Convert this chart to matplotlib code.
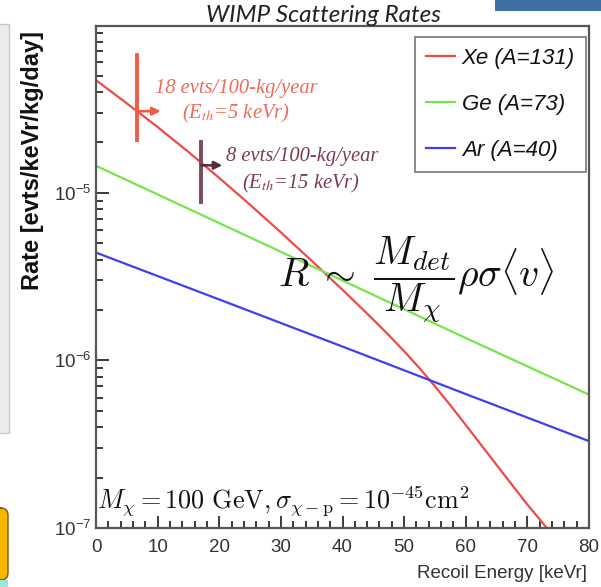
import matplotlib
matplotlib.use("Agg")
import matplotlib.pyplot as plt
from matplotlib.patches import Rectangle, FancyBboxPatch
from matplotlib.lines import Line2D
from matplotlib.ticker import LogLocator, FixedLocator, MultipleLocator, NullFormatter, FuncFormatter

# ---------------- data ----------------
xe_energy = [0, 5, 10, 15, 20, 25, 30, 35, 40, 42.5, 45, 47.5, 50, 52.5, 55, 57.5,
             60, 62.5, 65, 67.5, 70, 72.5, 75]
xe_rate = [4.70e-5, 3.42e-5, 2.47e-5, 1.754e-5, 1.227e-5, 8.49e-6, 5.81e-6, 3.93e-6,
           2.64e-6, 2.153e-6, 1.750e-6, 1.416e-6, 1.135e-6, 8.99e-7, 7.01e-7, 5.40e-7,
           4.12e-7, 3.13e-7, 2.38e-7, 1.81e-7, 1.38e-7, 1.07e-7, 8.3e-8]
ge_energy = [0, 20, 40, 60, 80]
ge_rate = [1.45e-5, 6.6e-6, 3.0e-6, 1.36e-6, 6.25e-7]
ar_energy = [0, 20, 40, 60, 80]
ar_rate = [4.4e-6, 2.31e-6, 1.21e-6, 6.3e-7, 3.3e-7]

series_labels = ["Xe (A=131)", "Ge (A=73)", "Ar (A=40)"]
series_colors = ["#ee4a4a", "#72e64a", "#3f3ff0"]

x_ticks = [0, 10, 20, 30, 40, 50, 60, 70, 80]
y_ticks = [1e-7, 1e-6, 1e-5]
y_tick_labels = ["$10^{-7}$", "$10^{-6}$", "$10^{-5}$"]

# threshold markers: (energy, rate at curve, low, high)
thr1 = dict(x=6.6, y=3.07e-5, lo=2.06e-5, hi=6.64e-5, dx=3.9)
thr2 = dict(x=17.1, y=1.46e-5, lo=8.8e-6, hi=2.02e-5, dx=3.4)

# ---------------- style ----------------
plt.rcParams["mathtext.fontset"] = "custom"
plt.rcParams["mathtext.rm"] = "Liberation Sans"
plt.rcParams["mathtext.it"] = "Liberation Sans:italic"
plt.rcParams["font.family"] = ["Liberation Sans", "DejaVu Sans"]

W, H = 601, 587
fig = plt.figure(figsize=(W / 100, H / 100), dpi=100)

def fx(px):
    return px / W

def fy(py):
    return 1 - py / H

left, right, top, bottom = 96, 589, 26, 528
ax = fig.add_axes([fx(left), fy(bottom), (right - left) / W, (bottom - top) / H])

for e, r, c in zip([xe_energy, ge_energy, ar_energy], [xe_rate, ge_rate, ar_rate], series_colors):
    ax.plot(e, r, color=c, lw=1.6, solid_capstyle="butt")

ax.set_yscale("log")
ax.set_xlim(0, 80)
ax.set_ylim(1e-7, 9.9e-5)

axis_col = "#3a3a3a"
for s in ax.spines.values():
    s.set_color("#555555")
    s.set_linewidth(1.6)

ax.xaxis.set_major_locator(FixedLocator(x_ticks))
ax.xaxis.set_minor_locator(MultipleLocator(2))
ax.yaxis.set_major_locator(FixedLocator(y_ticks))
ax.yaxis.set_major_formatter(FuncFormatter(lambda v, p: y_tick_labels[y_ticks.index(v)] if v in y_ticks else ""))
ax.yaxis.set_minor_locator(LogLocator(base=10, subs=range(2, 10)))
ax.yaxis.set_minor_formatter(NullFormatter())
ax.tick_params(which="both", direction="in", colors=axis_col, width=1.4,
               top=False, right=False, labelsize=13.5)
ax.tick_params(which="major", length=9)
ax.tick_params(which="minor", length=5)
ax.tick_params(axis="x", which="major", pad=8)
ax.tick_params(axis="y", which="major", pad=3)
for lab in ax.get_xticklabels() + ax.get_yticklabels():
    lab.set_color("#333333")

# threshold markers
ax.plot([thr1["x"], thr1["x"]], [thr1["lo"], thr1["hi"]], color="#f45a48", lw=2.8)
ax.annotate("", xy=(thr1["x"] + thr1["dx"], thr1["y"]), xytext=(thr1["x"], thr1["y"]),
            arrowprops=dict(arrowstyle="-|>", color="#f45a48", lw=1.8, mutation_scale=12,
                            shrinkA=0, shrinkB=0))
ax.plot([thr2["x"], thr2["x"]], [thr2["lo"], thr2["hi"]], color="#7d4a5c", lw=2.8)
ax.annotate("", xy=(thr2["x"] + thr2["dx"], thr2["y"]), xytext=(thr2["x"], thr2["y"]),
            arrowprops=dict(arrowstyle="-|>", color="#5a2a3c", lw=1.8, mutation_scale=12,
                            shrinkA=0, shrinkB=0))

serif = ["Liberation Serif", "DejaVu Serif"]
fig.text(fx(236), fy(89), "18 evts/100-kg/year", color="#f06a58", fontsize=14.8,
         family=serif, style="italic", ha="center", va="center")
fig.text(fx(236), fy(113), r"(E$_{th}$=5 keVr)", color="#f06a58", fontsize=14.8,
         family=serif, style="italic", ha="center", va="center", math_fontfamily="stix")
fig.text(fx(302), fy(157), "8 evts/100-kg/year", color="#7a3c4e", fontsize=14.8,
         family=serif, style="italic", ha="center", va="center")
fig.text(fx(301), fy(183), r"(E$_{th}$=15 keVr)", color="#7a3c4e", fontsize=14.8,
         family=serif, style="italic", ha="center", va="center", math_fontfamily="stix")

# formula
fig.text(fx(278), fy(280), r"$R\;\sim\ \dfrac{M_{det}}{M_{\chi}}\rho\sigma\langle v\rangle$",
         fontsize=28.5, math_fontfamily="cm", ha="left", va="center", color="#111111")
fig.text(fx(97), fy(501),
         r"$M_{\chi} = 100\ \mathrm{GeV}, \sigma_{\chi-\mathrm{p}} = 10^{-45}\mathrm{cm}^{2}$",
         fontsize=18.8, math_fontfamily="cm", ha="left", va="center", color="#111111")

# legend
handles = [Line2D([], [], color=c, lw=1.6) for c in series_colors]
leg = ax.legend(handles, series_labels, loc="upper left",
                bbox_to_anchor=(fx(415), fy(37)), bbox_transform=fig.transFigure,
                frameon=True, fancybox=False, edgecolor="#777777", framealpha=1,
                prop=dict(family="Liberation Sans", style="italic", size=16),
                handlelength=1.3, handletextpad=0.3, labelspacing=1.12,
                borderpad=0.5, borderaxespad=0)
leg.get_frame().set_linewidth(1.2)
for t in leg.get_texts():
    t.set_color("#111111")

# titles / labels
fig.text(fx(323), fy(15), "WIMP Scattering Rates", fontsize=17.5, family=["Lato", "DejaVu Sans"],
         style="italic", ha="center", va="center", color="#222222")
fig.text(fx(33), fy(160), "Rate [evts/keVr/kg/day]", fontsize=17, fontweight="bold",
         rotation=90, ha="center", va="center", color="#111111")
fig.text(fx(587), fy(573), "Recoil Energy [keVr]", fontsize=13.5, ha="right", va="center",
         color="#333333")

# slide artifacts around the cropped chart
fig.add_artist(Rectangle((fx(-2), fy(433)), fx(11), (433 - 24) / H, transform=fig.transFigure,
                         facecolor="#ebebeb", edgecolor="#c8c8c8", lw=1))
fig.add_artist(FancyBboxPatch((fx(-6), fy(580)), fx(14), (580 - 508) / H,
                              boxstyle="round,pad=0,rounding_size=0.012",
                              transform=fig.transFigure, facecolor="#f7b500",
                              edgecolor="#7a5a10", lw=1))
fig.add_artist(Rectangle((fx(0), fy(587)), fx(8), 7 / H, transform=fig.transFigure,
                         facecolor="#9ee6d8", edgecolor="none"))
fig.add_artist(Rectangle((fx(495), fy(11)), fx(106), 11 / H, transform=fig.transFigure,
                         facecolor="#3f70a4", edgecolor="none"))

fig.savefig("out.png", dpi=100)
